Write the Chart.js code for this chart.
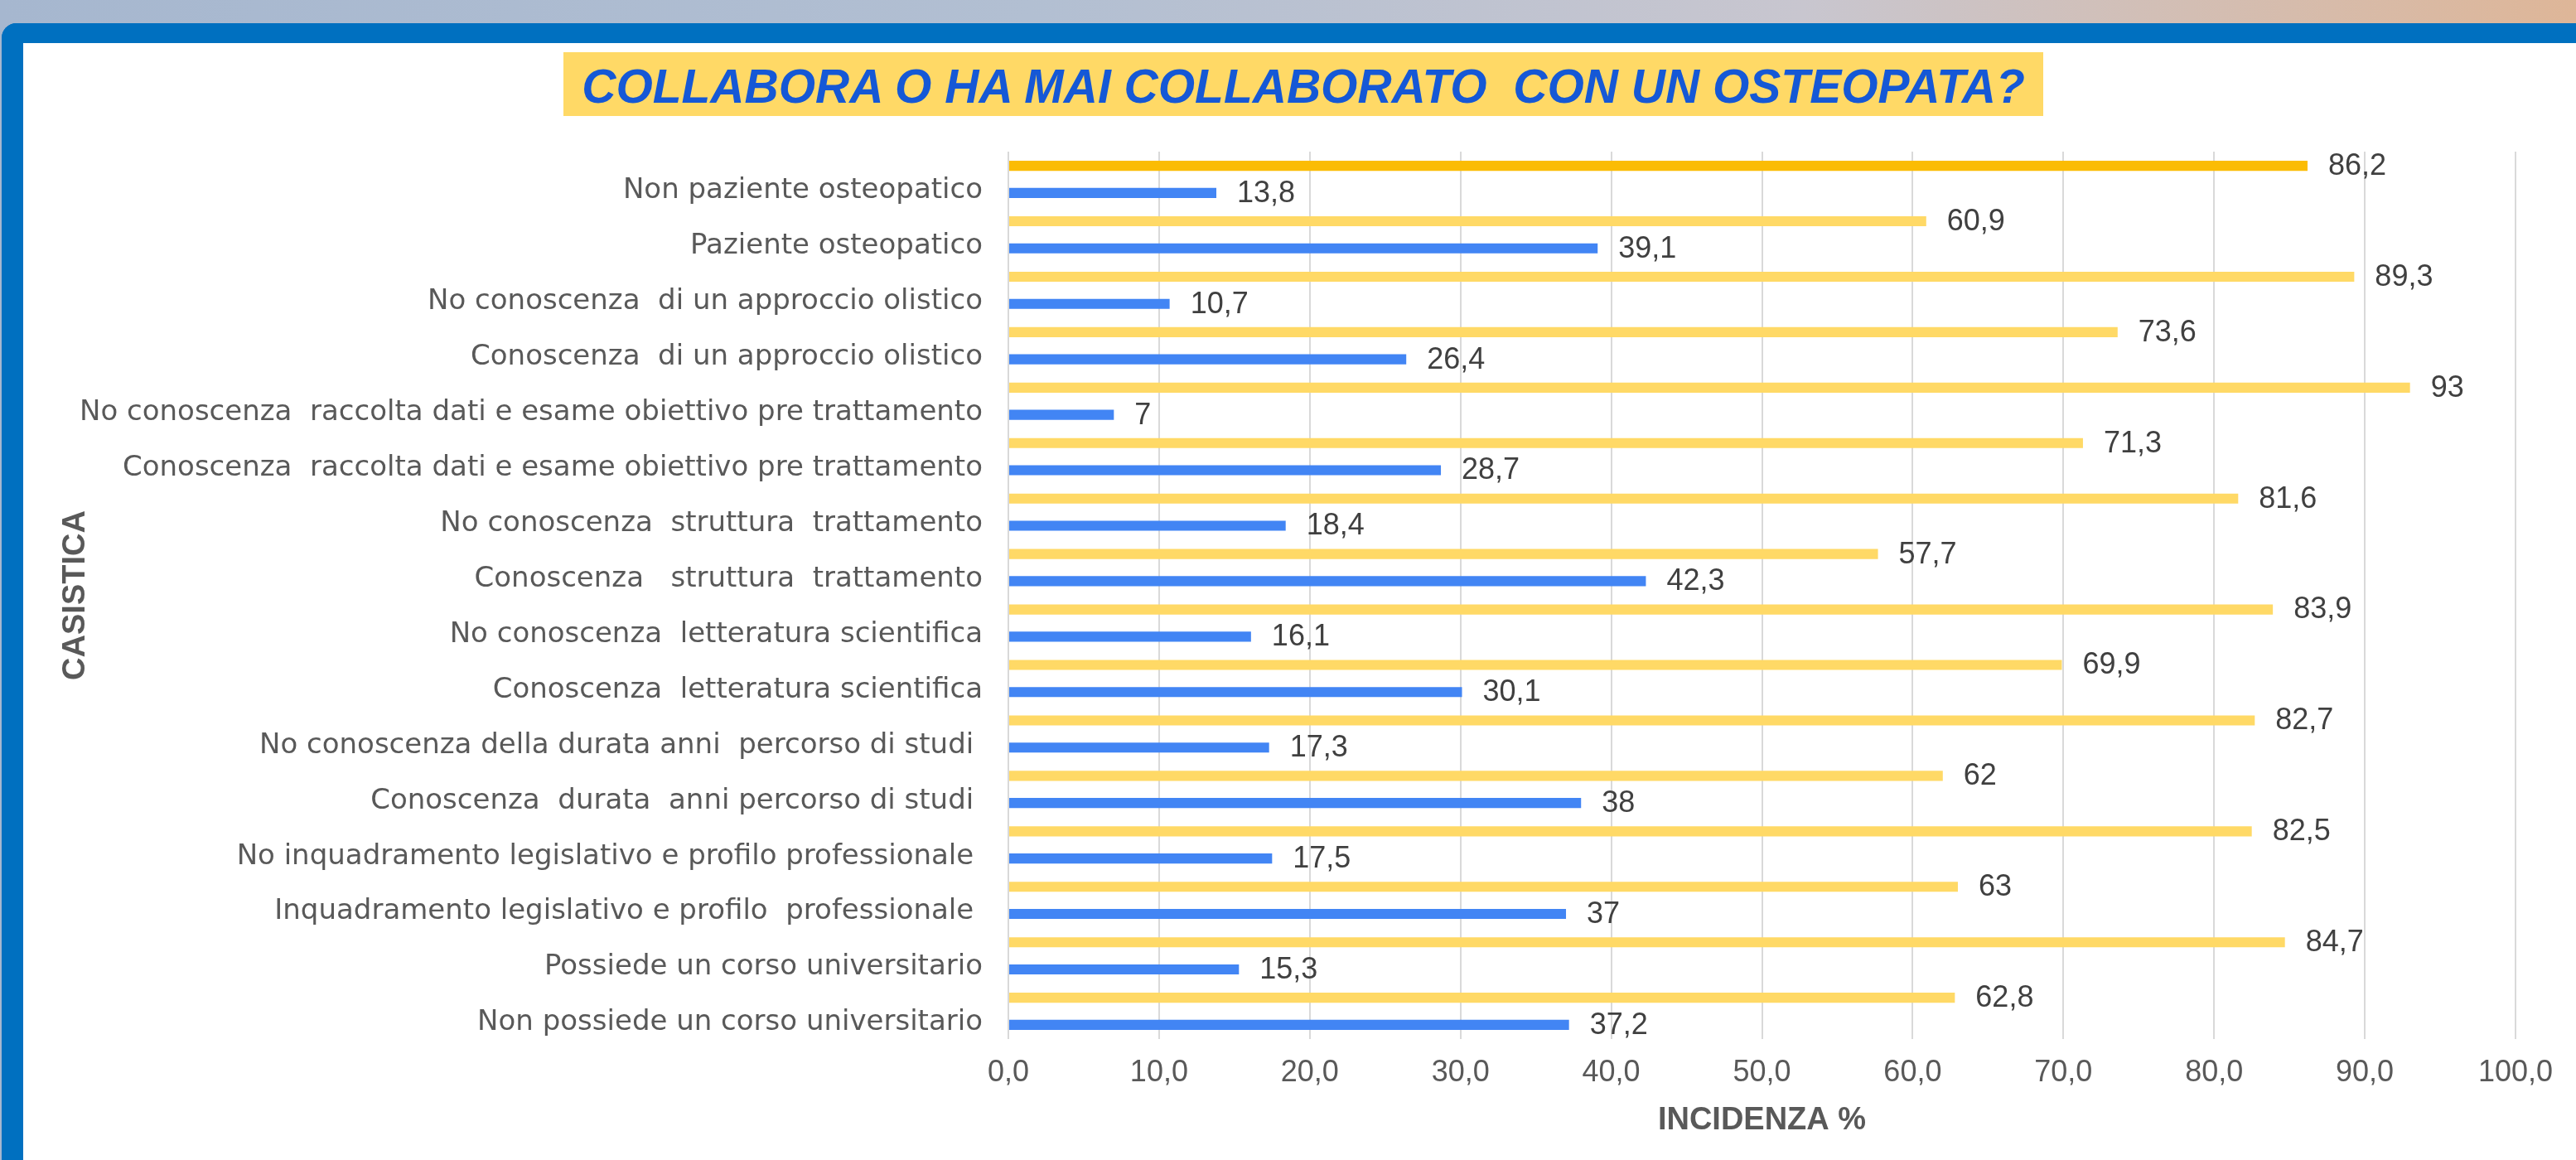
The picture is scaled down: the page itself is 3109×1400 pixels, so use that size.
<!DOCTYPE html>
<html>
<head>
<meta charset="utf-8">
<script src="https://cdn.jsdelivr.net/npm/chart.js@4.4.1/dist/chart.umd.min.js"></script>
<style>
  html, body { margin: 0; padding: 0; }
  body {
    width: 3109px; height: 1400px; overflow: hidden; position: relative;
    background: linear-gradient(90deg, #a6b7cf 0%, #b2bfd2 40%, #c8c6cf 70%, #deb698 100%);
  }
  #panel {
    position: absolute; left: 2px; top: 28px; width: 3200px; height: 1500px;
    background: #fff; box-sizing: border-box;
    border-top: 24px solid #0070c0; border-left: 26px solid #0070c0;
    border-top-left-radius: 18px;
  }
  #title {
    position: absolute; left: 680px; top: 63px; width: 1786px; height: 77px;
    background: #ffd966; color: #1558d6; text-align: center; white-space: pre;
    font: italic bold 57px "Liberation Sans", Arial, sans-serif; line-height: 82px;
  }
  #js--chart { position: absolute; left: 0; top: 0; }
</style>
</head>
<body>
<div id="panel"></div>
<div id="title">COLLABORA O HA MAI COLLABORATO  CON UN OSTEOPATA?</div>
<canvas id="js--chart" width="3109" height="1400"></canvas>
<script>
const categories = [
  "Non paziente osteopatico",
  "Paziente osteopatico",
  "No conoscenza  di un approccio olistico",
  "Conoscenza  di un approccio olistico",
  "No conoscenza  raccolta dati e esame obiettivo pre trattamento",
  "Conoscenza  raccolta dati e esame obiettivo pre trattamento",
  "No conoscenza  struttura  trattamento",
  "Conoscenza   struttura  trattamento",
  "No conoscenza  letteratura scientifica",
  "Conoscenza  letteratura scientifica",
  "No conoscenza della durata anni  percorso di studi ",
  "Conoscenza  durata  anni percorso di studi ",
  "No inquadramento legislativo e profilo professionale ",
  "Inquadramento legislativo e profilo  professionale ",
  "Possiede un corso universitario",
  "Non possiede un corso universitario",
];

const noValues = [86.2, 60.9, 89.3, 73.6, 93, 71.3, 81.6, 57.7, 83.9, 69.9, 82.7, 62, 82.5, 63, 84.7, 62.8];
const siValues = [13.8, 39.1, 10.7, 26.4, 7, 28.7, 18.4, 42.3, 16.1, 30.1, 17.3, 38, 17.5, 37, 15.3, 37.2];

const xTicks = [0, 10, 20, 30, 40, 50, 60, 70, 80, 90, 100];

function virgola(v) {
  return String(v).replace('.', ',');
}

// etichette dei valori a destra delle barre
const valueLabels = {
  id: 'valueLabels',
  afterDatasetsDraw(chart) {
    const ctx = chart.ctx;
    ctx.save();
    ctx.font = '36px "Liberation Sans", Arial, sans-serif';
    ctx.fillStyle = '#404040';
    ctx.textAlign = 'left';
    ctx.textBaseline = 'middle';
    chart.data.datasets.forEach((ds, i) => {
      chart.getDatasetMeta(i).data.forEach((bar, j) => {
        ctx.fillText(virgola(ds.data[j]), bar.x + 25, bar.y + 1);
      });
    });
    ctx.restore();
  }
};

Chart.defaults.font.family = '"Liberation Sans", Arial, sans-serif';
Chart.defaults.color = '#595959';

const data = {
  labels: categories,
  datasets: [
    {
      label: 'No',
      data: noValues,
      backgroundColor: noValues.map((v, i) => i === 0 ? '#fbbc04' : '#ffd966'),
    },
    {
      label: 'Sì',
      data: siValues,
      backgroundColor: '#4285f4',
    }
  ]
};

const config = {
  type: 'bar',
  data: data,
  options: {
    indexAxis: 'y',
    responsive: false,
    animation: false,
    devicePixelRatio: 1,
    layout: { padding: { top: 183, right: 73, bottom: 0, left: 0 } },
    plugins: {
      legend: { display: false },
      tooltip: { enabled: false },
    },
    datasets: { bar: { categoryPercentage: 0.98, barPercentage: 0.37 } },
    scales: {
      x: {
        min: 0,
        max: 100,
        afterBuildTicks: (scale) => { scale.ticks = xTicks.map(v => ({ value: v })); },
        afterFit: (scale) => { scale.height = 146; },
        ticks: {
          padding: 19,
          font: { size: 36 },
          color: '#595959',
          callback: (v) => v.toFixed(1).replace('.', ','),
        },
        grid: { color: '#d9d9d9', lineWidth: 2, drawTicks: false },
        border: { display: false },
        title: {
          display: true,
          text: 'INCIDENZA %',
          font: { size: 38, weight: 'bold' },
          color: '#595959',
          padding: { top: 0, bottom: 25 },
        },
      },
      y: {
        afterFit: (scale) => { scale.width = 1217; },
        ticks: {
          padding: 31,
          labelOffset: 14,
          autoSkip: false,
          font: { size: 34, family: '"DejaVu Sans", sans-serif' },
          color: '#595959',
        },
        grid: { display: false, drawTicks: false },
        border: { display: false },
        title: {
          display: true,
          text: 'CASISTICA',
          font: { size: 38, weight: 'bold' },
          color: '#595959',
          padding: { top: 69, bottom: 0 },
        },
      },
    },
  },
  plugins: [valueLabels],
};

new Chart(document.getElementById('js--chart'), config);
</script>
</body>
</html>
